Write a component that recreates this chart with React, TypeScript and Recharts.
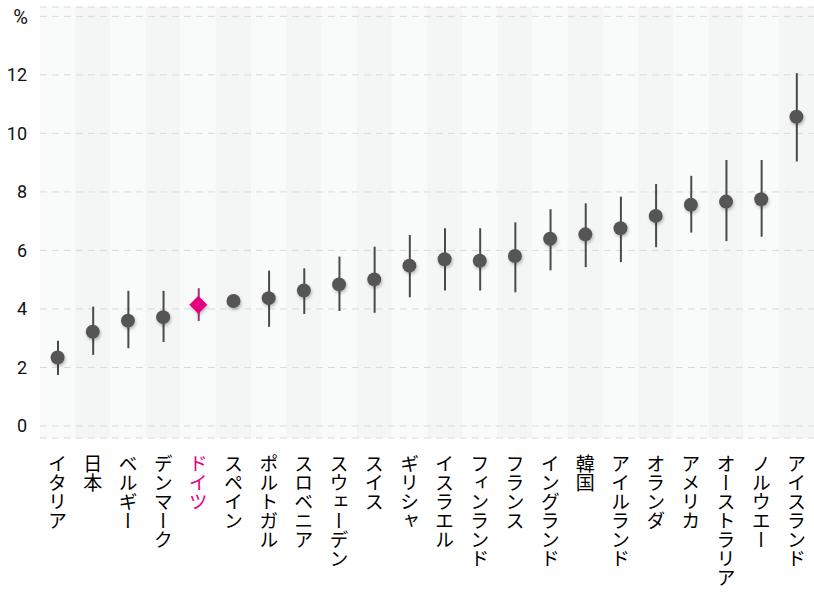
import { ComposedChart, Bar, Scatter, XAxis, YAxis, CartesianGrid, ReferenceArea, Cell } from 'recharts';

const countries = [
  'イタリア', '日本', 'ベルギー', 'デンマーク', 'ドイツ', 'スペイン', 'ポルトガル', 'スロベニア',
  'スウェーデン', 'スイス', 'ギリシャ', 'イスラエル', 'フィンランド', 'フランス', 'イングランド',
  '韓国', 'アイルランド', 'オランダ', 'アメリカ', 'オーストラリア', 'ノルウエー', 'アイスランド',
];
const values = [2.34, 3.22, 3.6, 3.72, 4.14, 4.27, 4.37, 4.63, 4.84, 5.01, 5.48, 5.7, 5.65, 5.81, 6.4, 6.55, 6.76, 7.18, 7.56, 7.67, 7.75, 10.57];
const lows = [1.74, 2.43, 2.66, 2.87, 3.59, 4.1, 3.39, 3.83, 3.93, 3.87, 4.4, 4.63, 4.63, 4.57, 5.32, 5.43, 5.6, 6.11, 6.61, 6.32, 6.47, 9.04];
const highs = [2.91, 4.08, 4.62, 4.62, 4.71, 4.45, 5.31, 5.39, 5.79, 6.13, 6.53, 6.76, 6.76, 6.96, 7.41, 7.61, 7.84, 8.27, 8.55, 9.09, 9.09, 12.06];
const yTicks = [0, 2, 4, 6, 8, 10, 12, 14];
const highlight = 'ドイツ';

const data = countries.map((name, i) => ({
  name,
  value: values[i],
  range: [lows[i], highs[i]],
}));

const PINK = '#e4007f';

const Marker = (props: any) => {
  const { cx, cy, payload } = props;
  if (cx == null || cy == null) return null;
  if (payload.name === highlight) {
    const r = 9;
    return (
      <path
        d={`M${cx},${cy - r} L${cx + r},${cy} L${cx},${cy + r} L${cx - r},${cy} Z`}
        fill={PINK}
        filter="url(#dotShadow)"
      />
    );
  }
  return <circle cx={cx} cy={cy} r={7} fill="#555555" filter="url(#dotShadow)" />;
};

const CountryTick = (props: any) => {
  const { x, y, payload } = props;
  const isHi = payload.value === highlight;
  return (
    <text
      x={x}
      y={y + 8}
      fill={isHi ? PINK : '#000'}
      fontSize={19}
      fontFamily='"Noto Sans CJK JP", sans-serif'
      textAnchor="start"
      style={{ writingMode: 'vertical-rl' as any }}
    >
      {payload.value}
    </text>
  );
};

const ValueTick = (props: any) => {
  const { x, y, payload } = props;
  const isTop = payload.value === 14;
  return (
    <text
      x={isTop ? x + 1 : x}
      y={isTop ? y + 1 : y}
      dy="0.355em"
      textAnchor="end"
      fill="#111"
      fontSize={isTop ? 20 : 18}
      fontFamily="Roboto, sans-serif"
    >
      {isTop ? '%' : payload.value}
    </text>
  );
};

export default function App() {
  return (
    <div style={{ position: 'absolute', left: 0, top: 0, width: 814, height: 596, background: '#fff' }}>
      <svg width={0} height={0} style={{ position: 'absolute' }}>
        <defs>
          <filter id="dotShadow" x="-50%" y="-50%" width="200%" height="200%">
            <feDropShadow dx={1} dy={2} stdDeviation={1.5} floodColor="#000" floodOpacity={0.25} />
          </filter>
        </defs>
      </svg>
      <ComposedChart
        width={814}
        height={596}
        data={data}
        margin={{ top: 7, right: 0, left: 0, bottom: 0 }}
      >
        {countries.map((c, i) => (
          <ReferenceArea
            key={c}
            x1={c}
            x2={c}
            fill={i % 2 === 0 ? '#f9fafa' : '#f4f5f5'}
            fillOpacity={1}
            stroke="none"
            zIndex={-200}
          />
        ))}
        <CartesianGrid vertical={false} stroke="#dadada" strokeDasharray="7 5" />
        <XAxis
          dataKey="name"
          interval={0}
          axisLine={false}
          tickLine={false}
          height={158}
          tick={<CountryTick />}
        />
        <YAxis
          width={40}
          domain={[-0.41, 14.32]}
          ticks={yTicks}
          axisLine={false}
          tickLine={false}
          tickSize={0}
          tickMargin={13}
          tick={<ValueTick />}
        />
        <Bar dataKey="range" barSize={2} isAnimationActive={false}>
          {data.map((d) => (
            <Cell key={d.name} fill={d.name === highlight ? '#a0336f' : '#4a4a4a'} />
          ))}
        </Bar>
        <Scatter dataKey="value" shape={<Marker />} isAnimationActive={false} />
      </ComposedChart>
    </div>
  );
}
